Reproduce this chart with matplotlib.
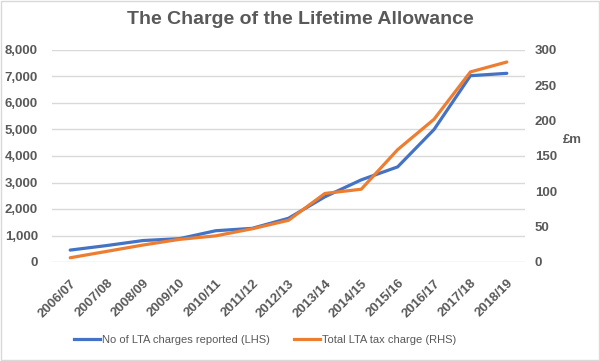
import matplotlib
matplotlib.use("Agg")
import matplotlib.pyplot as plt
from matplotlib.patches import Rectangle

plt.rcParams['font.family'] = ['Liberation Sans', 'DejaVu Sans']

# data
years = ["2006/07", "2007/08", "2008/09", "2009/10", "2010/11", "2011/12", "2012/13",
         "2013/14", "2014/15", "2015/16", "2016/17", "2017/18", "2018/19"]
lta_charges = [450, 620, 810, 880, 1180, 1270, 1650, 2460, 3100, 3590, 5000, 7030, 7120]
lta_tax_m = [6, 15, 24, 32, 37, 47, 59, 97, 103, 159, 202, 269, 283]

grey = "#595959"
blue = "#4472C4"
orange = "#ED7D31"

fig = plt.figure(figsize=(6, 3.61), dpi=100)
ax = fig.add_axes([52 / 600, 1 - 262 / 361, (525 - 52) / 600, (262 - 50) / 361])
ax2 = ax.twinx()

x = list(range(len(years)))
ax.plot(x, lta_charges, color=blue, lw=2.3, solid_capstyle='round')
ax2.plot(x, lta_tax_m, color=orange, lw=2.3, solid_capstyle='round')

ax.set_xlim(-0.5, len(years) - 0.5)
ax.set_ylim(0, 8000)
ax2.set_ylim(0, 300)
ax.set_yticks(range(0, 8001, 1000))
ax.set_yticklabels([f"{v:,}" for v in range(0, 8001, 1000)])
ax2.set_yticks(range(0, 301, 50))

ax.set_xticks(x)
ax.set_xticklabels(years, rotation=45, ha='right', rotation_mode='anchor')

ax.grid(axis='y', color='#D9D9D9', lw=1)
ax.set_axisbelow(True)
for a in (ax, ax2):
    for s in a.spines.values():
        s.set_visible(False)
    a.tick_params(length=0, labelsize=9.5, labelcolor=grey)
    for lbl in a.get_yticklabels() + a.get_xticklabels():
        lbl.set_fontweight('bold')
ax.tick_params(axis='y', pad=10)
ax2.tick_params(axis='y', pad=7)
ax.tick_params(axis='x', pad=11)

ax2.set_ylabel("£m", rotation=0, color=grey, fontsize=9.5, fontweight='bold',
               va='center', ha='center')
ax2.yaxis.set_label_coords(1.1, 0.575)

fig.text(0.5, 1 - 20 / 361, "The Charge of the Lifetime Allowance", ha='center', va='center',
         fontsize=14, fontweight='bold', color=grey)

# legend sits a little left of centre in the reference
h1, = ax.plot([], [], color=blue, lw=2.3)
h2, = ax.plot([], [], color=orange, lw=2.3)
fig.legend([h1, h2], ["No of LTA charges reported (LHS)", "Total LTA tax charge (RHS)"],
           loc='center', bbox_to_anchor=(0.442, 1 - 340 / 361), ncol=2, frameon=False,
           fontsize=8, labelcolor=grey, handlelength=2.3, columnspacing=2.2,
           handletextpad=0.2)

fig.patches.append(Rectangle((0.001, 0.002), 0.997, 0.995, transform=fig.transFigure,
                             fill=False, edgecolor='#D9D9D9', lw=1))

fig.savefig("out.png", dpi=100)
